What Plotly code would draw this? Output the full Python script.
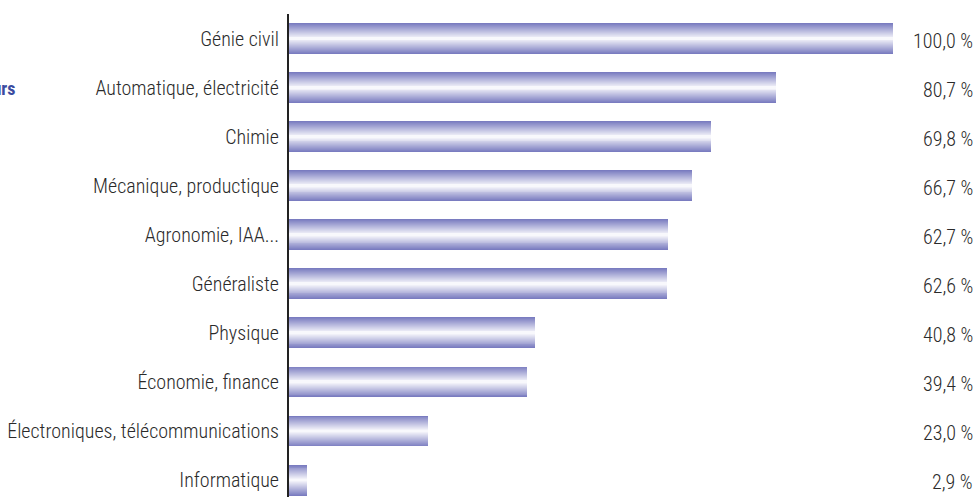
import plotly.graph_objects as go

# Share of graduates per engineering specialty (%)
categories = [
    "Génie civil",
    "Automatique, électricité",
    "Chimie",
    "Mécanique, productique",
    "Agronomie, IAA...",
    "Généraliste",
    "Physique",
    "Économie, finance",
    "Électroniques, télécommunications",
    "Informatique",
]
values = [100.0, 80.7, 69.8, 66.7, 62.7, 62.6, 40.8, 39.4, 23.0, 2.9]
value_labels = ["100,0 %", "80,7 %", "69,8 %", "66,7 %", "62,7 %",
                "62,6 %", "40,8 %", "39,4 %", "23,0 %", "2,9 %"]

FONT = "Roboto Condensed, Liberation Sans Narrow, sans-serif"
TEXT = "#2a2a2a"

dark = (122, 124, 192)
light = (248, 248, 252)
full_width = 0.63
layers = 16

fig = go.Figure()
# Stack narrowing bars, lighter towards the centre, to get a tube-like shading
for k in range(layers):
    t = k / (layers - 1)
    c = tuple(round(dark[i] + (light[i] - dark[i]) * t) for i in range(3))
    w = full_width * (1 - k / layers)
    fig.add_trace(go.Bar(
        x=values, y=categories, orientation="h",
        width=w,
        marker=dict(color=f"rgb{c}", line=dict(width=0)),
        hoverinfo="skip" if k else "x+y",
        showlegend=False,
    ))

for cat, lab in zip(categories, value_labels):
    fig.add_annotation(
        x=1, xref="paper", xanchor="right",
        y=cat, yref="y", yshift=-2,
        text=lab, showarrow=False,
        font=dict(family=FONT, size=20, color=TEXT, weight=300),
    )

plot_w = 978 - 289 - 3
plot_h = 497 - 14 - 0

# Title, partly running off the left edge
fig.add_annotation(
    x=(17 - 289) / plot_w, xref="paper", xanchor="right",
    y=(497 - 88) / plot_h, yref="paper", yanchor="middle",
    text="<b>Ingénieurs</b>", showarrow=False,
    font=dict(family=FONT, size=18, color="#3b4ba0"),
)

fig.update_layout(
    width=978, height=497,
    margin=dict(l=289, r=3, t=14, b=0, autoexpand=False),
    barmode="overlay",
    bargap=0,
    plot_bgcolor="white",
    paper_bgcolor="white",
    xaxis=dict(range=[0, 113.6], visible=False, fixedrange=True),
    yaxis=dict(
        type="category",
        automargin=False,
        range=[9.345, -0.5],
        showline=True, linecolor="#222222", linewidth=2,
        ticks="", showgrid=False, zeroline=False,
        ticklabelstandoff=4,
        tickfont=dict(family=FONT, size=20, color=TEXT, weight=300),
    ),
)

fig.write_html("out.html")
